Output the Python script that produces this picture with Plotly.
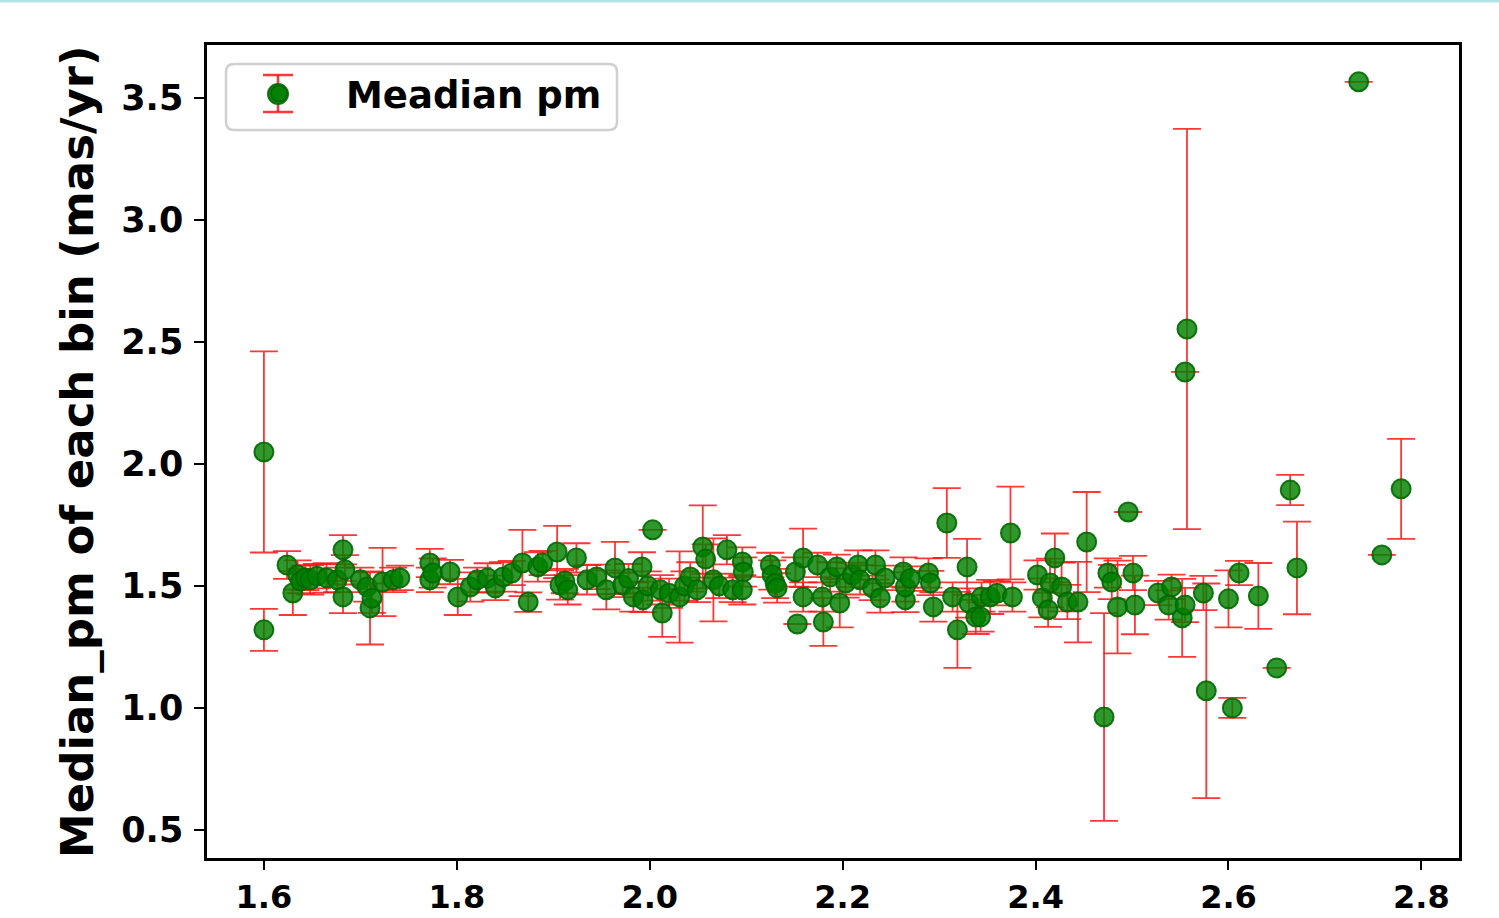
import plotly.graph_objects as go

# Bin centres and the median proper motion measured in each bin (mas/yr)
bin_centre = [
    1.600, 1.600, 1.624, 1.630, 1.635, 1.638, 1.643, 1.648, 1.655, 1.665,
    1.676, 1.682, 1.684, 1.682, 1.700, 1.707, 1.710, 1.712, 1.723, 1.734,
    1.741, 1.772, 1.772, 1.775, 1.793, 1.801, 1.814, 1.821, 1.832, 1.840,
    1.848, 1.857, 1.868, 1.874, 1.884, 1.889, 1.904, 1.907, 1.912, 1.915,
    1.924, 1.935, 1.945, 1.955, 1.964, 1.972, 1.978, 1.983, 1.992, 1.993,
    1.998, 2.003, 2.011, 2.013, 2.020, 2.031, 2.036, 2.042, 2.049, 2.055,
    2.058, 2.066, 2.072, 2.080, 2.086, 2.096, 2.097, 2.096, 2.125, 2.127,
    2.130, 2.132, 2.151, 2.153, 2.159, 2.159, 2.174, 2.179, 2.180, 2.187,
    2.194, 2.197, 2.203, 2.210, 2.216, 2.218, 2.231, 2.234, 2.239, 2.244,
    2.263, 2.265, 2.265, 2.270, 2.289, 2.291, 2.294, 2.308, 2.314, 2.319,
    2.329, 2.331, 2.338, 2.344, 2.343, 2.353, 2.360, 2.374, 2.376, 2.402,
    2.407, 2.413, 2.415, 2.420, 2.427, 2.433, 2.444, 2.453, 2.471, 2.475,
    2.479, 2.485, 2.496, 2.501, 2.503, 2.527, 2.538, 2.541, 2.552, 2.555,
    2.555, 2.557, 2.574, 2.577, 2.600, 2.604, 2.611, 2.631, 2.650, 2.664,
    2.671, 2.735, 2.759, 2.779,
]

median_pm = [
    2.049, 1.320, 1.586, 1.471, 1.545, 1.520, 1.533, 1.525, 1.540, 1.533,
    1.525, 1.648, 1.566, 1.455, 1.525, 1.496, 1.410, 1.450, 1.516, 1.525,
    1.533, 1.594, 1.525, 1.553, 1.557, 1.455, 1.496, 1.525, 1.533, 1.492,
    1.537, 1.553, 1.594, 1.434, 1.578, 1.594, 1.639, 1.504, 1.520, 1.484,
    1.615, 1.525, 1.537, 1.484, 1.574, 1.504, 1.530, 1.455, 1.578, 1.443,
    1.500, 1.730, 1.484, 1.389, 1.470, 1.455, 1.500, 1.537, 1.484, 1.660,
    1.610, 1.525, 1.500, 1.648, 1.484, 1.598, 1.557, 1.484, 1.586, 1.545,
    1.510, 1.492, 1.557, 1.344, 1.615, 1.455, 1.586, 1.455, 1.352, 1.537,
    1.578, 1.430, 1.512, 1.545, 1.586, 1.525, 1.492, 1.586, 1.451, 1.533,
    1.557, 1.443, 1.496, 1.530, 1.553, 1.512, 1.414, 1.758, 1.455, 1.320,
    1.578, 1.430, 1.373, 1.455, 1.373, 1.455, 1.470, 1.717, 1.455, 1.545,
    1.451, 1.402, 1.512, 1.615, 1.496, 1.434, 1.434, 1.680, 0.963, 1.553,
    1.516, 1.414, 1.803, 1.553, 1.422, 1.471, 1.422, 1.496, 1.369, 1.422,
    2.377, 2.553, 1.471, 1.070, 1.447, 1.000, 1.553, 1.459, 1.164, 1.893,
    1.574, 3.566, 1.627, 1.898,
]

# Uncertainty on each bin's median
pm_error = [
    0.412, 0.086, 0.057, 0.090, 0.060, 0.050, 0.050, 0.060, 0.050, 0.060,
    0.050, 0.060, 0.060, 0.066, 0.050, 0.060, 0.150, 0.060, 0.140, 0.050,
    0.050, 0.058, 0.050, 0.060, 0.050, 0.074, 0.060, 0.050, 0.060, 0.050,
    0.060, 0.050, 0.136, 0.040, 0.060, 0.050, 0.107, 0.060, 0.050, 0.060,
    0.060, 0.060, 0.050, 0.080, 0.107, 0.050, 0.060, 0.060, 0.060, 0.050,
    0.060, 0.000, 0.060, 0.098, 0.060, 0.187, 0.060, 0.060, 0.050, 0.170,
    0.060, 0.170, 0.050, 0.060, 0.050, 0.060, 0.060, 0.060, 0.050, 0.060,
    0.060, 0.060, 0.060, 0.000, 0.120, 0.060, 0.050, 0.060, 0.098, 0.060,
    0.050, 0.100, 0.060, 0.050, 0.060, 0.060, 0.050, 0.060, 0.060, 0.050,
    0.060, 0.050, 0.060, 0.050, 0.060, 0.050, 0.060, 0.143, 0.060, 0.156,
    0.115, 0.060, 0.070, 0.060, 0.060, 0.070, 0.050, 0.190, 0.060, 0.060,
    0.080, 0.070, 0.100, 0.100, 0.100, 0.070, 0.165, 0.205, 0.426, 0.060,
    0.070, 0.190, 0.000, 0.070, 0.120, 0.050, 0.060, 0.050, 0.160, 0.070,
    0.000, 0.820, 0.070, 0.440, 0.117, 0.041, 0.050, 0.135, 0.000, 0.062,
    0.190, 0.000, 0.000, 0.205,
]

x_ticks = [1.6, 1.8, 2.0, 2.2, 2.4, 2.6, 2.8]
y_ticks = [0.5, 1.0, 1.5, 2.0, 2.5, 3.0, 3.5]

FONT = "DejaVu Sans"
W, H = 1499, 918
L, R, T, B = 207, 40, 45, 60
PW, PH = W - L - R, H - T - B

MARKER_FILL = "rgba(0,128,0,0.82)"
MARKER_EDGE = "rgba(0,105,0,0.9)"
BAR_RED = "rgba(255,20,20,0.85)"


def px(xp):
    return (xp - L) / PW


def py(yp):
    return (H - B - yp) / PH


fig = go.Figure()
fig.add_trace(go.Scatter(
    x=bin_centre, y=median_pm, mode="markers", name="Meadian pm",
    marker=dict(size=19, color=MARKER_FILL, line=dict(width=2, color=MARKER_EDGE)),
    error_y=dict(type="data", array=pm_error, visible=True,
                 color=BAR_RED, thickness=1.8, width=14),
))

axis_common = dict(
    showline=True, linecolor="black", linewidth=2.5, mirror=True,
    ticks="outside", tickwidth=2, tickcolor="black",
    showgrid=False, zeroline=False, automargin=False,
)

fig.update_layout(
    width=W, height=H,
    margin=dict(l=L, r=R, t=T, b=B, pad=0, autoexpand=False),
    paper_bgcolor="white", plot_bgcolor="white",
    xaxis=dict(range=[1.541, 2.839], tickvals=x_ticks,
               ticktext=[f"{v:.1f}" for v in x_ticks], ticklen=9,
               tickfont=dict(family=FONT, size=32, color="black", weight="bold"),
               ticklabelstandoff=0, **axis_common),
    yaxis=dict(range=[0.385, 3.717], tickvals=y_ticks,
               ticktext=[f"{v:.1f}" for v in y_ticks], ticklen=10,
               tickfont=dict(family=FONT, size=35, color="black", weight="bold"),
               ticklabelstandoff=4, **axis_common),
    showlegend=True,
    legend=dict(x=px(212), y=py(63), xanchor="left", yanchor="top",
                bgcolor="rgba(255,255,255,0)", borderwidth=0,
                font=dict(family=FONT, size=37, color="black", weight="bold"),
                itemwidth=124),
)

# Axis title
fig.add_annotation(
    text="Median_pm of each bin (mas/yr)", textangle=-90,
    xref="paper", yref="paper", x=px(77), y=py(452),
    xanchor="center", yanchor="middle", showarrow=False,
    font=dict(family=FONT, size=45, color="black", weight="bold"),
)

# Rounded legend frame
x0, x1, y0, y1 = px(226), px(617), py(64), py(130)
rx, ry = 8 / PW, 8 / PH
path = (f"M {x0+rx},{y0} L {x1-rx},{y0} Q {x1},{y0} {x1},{y0-ry} "
        f"L {x1},{y1+ry} Q {x1},{y1} {x1-rx},{y1} L {x0+rx},{y1} "
        f"Q {x0},{y1} {x0},{y1+ry} L {x0},{y0-ry} Q {x0},{y0} {x0+rx},{y0} Z")
fig.add_shape(type="path", path=path, xref="paper", yref="paper",
              line=dict(color="#d0d0d0", width=2.5), fillcolor="rgba(255,255,255,0.8)",
              layer="below")

# Error-bar glyph and full-size marker for the legend entry
gx, gy = 278, 94
for a, b, c, d in [(gx, 75, gx, 112), (gx - 15, 75, gx + 15, 75), (gx - 15, 112, gx + 15, 112)]:
    fig.add_shape(type="line", xref="paper", yref="paper",
                  x0=px(a), y0=py(b), x1=px(c), y1=py(d),
                  line=dict(color=BAR_RED, width=2.5), layer="above")
fig.add_shape(type="circle", xref="paper", yref="paper",
              x0=px(gx - 10), x1=px(gx + 10), y0=py(gy + 10), y1=py(gy - 10),
              fillcolor="rgb(28,138,28)", line=dict(color=MARKER_EDGE, width=2),
              layer="above")

# Thin tinted rule along the top edge of the page
fig.add_shape(type="rect", xref="paper", yref="paper",
              x0=px(0), x1=px(W), y0=py(0), y1=py(2.5),
              line=dict(width=0), fillcolor="#b3e3e8")

fig.write_html("out.html")
